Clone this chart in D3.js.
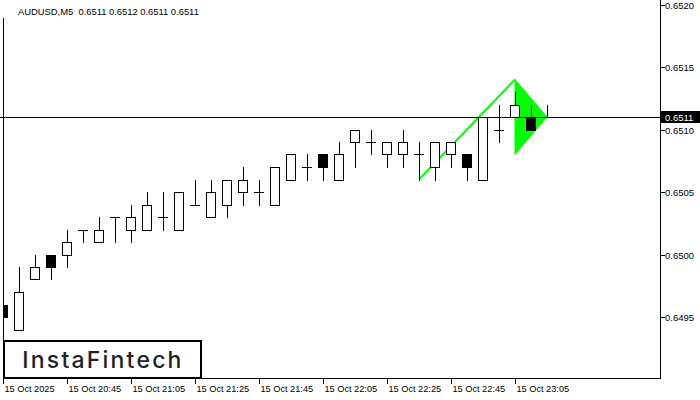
<!DOCTYPE html>
<html>
<head>
<meta charset="utf-8">
<title>AUDUSD M5</title>
<style>
    body { margin: 0; background: #fff; }
    svg { display: block; }
    text { font-family: "Liberation Sans", Arial, sans-serif; fill: #000; white-space: pre; }
</style>
</head>
<body>
<svg id="chart"></svg>
<script src="https://d3js.org/d3.v7.min.js"></script>
<script>

    // bar data (5 minute bars, 15 Oct 2025)
    const times = ["20:25","20:30","20:35","20:40","20:45","20:50","20:55","21:00","21:05","21:10",
                   "21:15","21:20","21:25","21:30","21:35","21:40","21:45","21:50","21:55","22:00",
                   "22:05","22:10","22:15","22:20","22:25","22:30","22:35","22:40","22:45","22:50",
                   "22:55","23:00","23:05","23:10","23:15"];
    const open  = [0.6496,0.6494,0.6498,0.6500,0.6500,0.6502,0.6501,0.6503,0.6502,0.6502,
                   0.6503,0.6502,0.6504,0.6503,0.6504,0.6505,0.6505,0.6504,0.6506,0.6507,
                   0.6508,0.6506,0.6509,0.6509,0.6508,0.6508,0.6508,0.6507,0.6508,0.6508,
                   0.6506,0.6510,0.6511,0.6511,0.6511];
    const high  = [0.6498,0.6499,0.6500,0.6500,0.6502,0.6502,0.6503,0.6503,0.6504,0.6505,
                   0.6505,0.6505,0.6506,0.6506,0.6506,0.6507,0.6506,0.6507,0.6508,0.6508,
                   0.6508,0.6509,0.6510,0.6510,0.6509,0.6510,0.6509,0.6509,0.6509,0.6508,
                   0.6511,0.6512,0.6513,0.6512,0.6512];
    const low   = [0.6494,0.6494,0.6498,0.6498,0.6499,0.6501,0.6501,0.6501,0.6501,0.6502,
                   0.6502,0.6502,0.6504,0.6503,0.6503,0.6504,0.6504,0.6504,0.6506,0.6506,
                   0.6506,0.6506,0.6507,0.6508,0.6507,0.6507,0.6506,0.6506,0.6507,0.6506,
                   0.6506,0.6509,0.6511,0.6510,0.6511];
    const close = [0.6495,0.6497,0.6499,0.6499,0.6501,0.6502,0.6502,0.6503,0.6503,0.6504,
                   0.6503,0.6505,0.6504,0.6505,0.6506,0.6506,0.6505,0.6507,0.6508,0.6507,
                   0.6507,0.6508,0.6510,0.6509,0.6509,0.6509,0.6508,0.6509,0.6509,0.6507,
                   0.6511,0.6510,0.6512,0.6510,0.6511];

    const xTickIdx    = [0,4,8,12,16,20,24,28,32];
    const xTickLabels = ["15 Oct 2025","15 Oct 20:45","15 Oct 21:05","15 Oct 21:25","15 Oct 21:45",
                         "15 Oct 22:05","15 Oct 22:25","15 Oct 22:45","15 Oct 23:05"];
    const yTicks      = [0.6495,0.6500,0.6505,0.6510,0.6515,0.6520];
    const lastPrice   = 0.6511;
    const title       = "AUDUSD,M5  0.6511 0.6512 0.6511 0.6511";

    // bullish pennant: pole from bar 26 to bar 32, flag ends at bar 34
    const poleIdx   = [26, 32];
    const polePrice = [0.6506, 0.6514];
    const flagIdx   = [32, 34, 32];
    const flagPrice = [0.6514, 0.6511, 0.6508];

    const data = times.map(function(t, i) {
        return {i: i, t: t, o: open[i], h: high[i], l: low[i], c: close[i]};
    });

    const svgWidth = 700, svgHeight = 400;
    const plotLeft = 3, plotRight = 660, plotBottom = 378;

    const svg = d3.select("#chart")
        .attr("width", svgWidth)
        .attr("height", svgHeight);

    const x = d3.scaleLinear().domain([0, 34]).range([3, 547]);
    const y = d3.scaleLinear().domain([0.6490, 0.6520]).range([379.5, 4.5]);

    svg.append("clipPath").attr("id", "plot")
        .append("rect")
        .attr("x", plotLeft).attr("y", 0)
        .attr("width", plotRight - plotLeft).attr("height", plotBottom);

    const g = svg.append("g").attr("clip-path", "url(#plot)");

    // pennant shape (behind the bars)
    const green = "#00ff00";
    const flagPts = flagIdx.map(function(d, k) { return [x(d), y(flagPrice[k])]; });
    g.append("path")
        .attr("d", d3.line()(flagPts) + "Z")
        .attr("fill", green)
        .attr("stroke", green)
        .attr("stroke-width", 1);

    g.append("path")
        .attr("d", d3.line()(poleIdx.map(function(d, k) { return [x(d), y(polePrice[k])]; })))
        .attr("fill", "none")
        .attr("stroke", green)
        .attr("stroke-width", 2);

    // last price line
    svg.append("line")
        .attr("x1", 0).attr("x2", plotRight)
        .attr("y1", Math.round(y(lastPrice)) + 0.5).attr("y2", Math.round(y(lastPrice)) + 0.5)
        .attr("stroke", "#000").attr("stroke-width", 1);

    // candles
    const bars = g.selectAll(".bar").data(data).enter().append("g").attr("class", "bar");
    function px(v) { return Math.round(v) + 0.5; }

    bars.append("line")
        .attr("x1", function(d) { return px(x(d.i)); })
        .attr("x2", function(d) { return px(x(d.i)); })
        .attr("y1", function(d) { return Math.round(y(d.h)); })
        .attr("y2", function(d) { return Math.round(y(d.l)) + 1; })
        .attr("stroke", "#000").attr("stroke-width", 1);

    bars.filter(function(d) { return d.o !== d.c; })
        .append("rect")
        .attr("x", function(d) { return Math.round(x(d.i)) - 4.5; })
        .attr("y", function(d) { return px(y(Math.max(d.o, d.c))); })
        .attr("width", 9)
        .attr("height", function(d) { return Math.round(y(Math.min(d.o, d.c))) - Math.round(y(Math.max(d.o, d.c))); })
        .attr("fill", function(d) { return d.c > d.o ? "#fff" : "#000"; })
        .attr("stroke", "#000").attr("stroke-width", 1);

    bars.filter(function(d) { return d.o === d.c; })
        .append("line")
        .attr("x1", function(d) { return Math.round(x(d.i)) - 5; })
        .attr("x2", function(d) { return Math.round(x(d.i)) + 5; })
        .attr("y1", function(d) { return px(y(d.o)); })
        .attr("y2", function(d) { return px(y(d.o)); })
        .attr("stroke", "#000").attr("stroke-width", 1);

    // frame
    svg.append("line").attr("x1", plotRight + 0.5).attr("x2", plotRight + 0.5)
        .attr("y1", 0).attr("y2", plotBottom + 1).attr("stroke", "#000");
    svg.append("line").attr("x1", plotLeft + 0.5).attr("x2", plotLeft + 0.5)
        .attr("y1", 18).attr("y2", plotBottom + 1).attr("stroke", "#000");
    svg.append("line").attr("x1", plotLeft).attr("x2", plotRight + 1)
        .attr("y1", plotBottom + 0.5).attr("y2", plotBottom + 0.5).attr("stroke", "#000");

    // right price axis
    const yAxis = svg.append("g");
    yTicks.forEach(function(v) {
        const yy = Math.round(y(v)) + 0.5;
        yAxis.append("line").attr("x1", plotRight).attr("x2", plotRight + 5)
            .attr("y1", yy).attr("y2", yy).attr("stroke", "#000");
        yAxis.append("text")
            .attr("x", plotRight + 5).attr("y", yy)
            .attr("dy", "0.35em")
            .style("font-size", "9.5px")
            .text(d3.format(".4f")(v));
    });

    const ly = Math.round(y(lastPrice));
    svg.append("rect").attr("x", plotRight + 1).attr("y", ly - 6)
        .attr("width", 39).attr("height", 12).attr("fill", "#000");
    svg.append("text").attr("x", plotRight + 5).attr("y", ly + 0.5)
        .attr("dy", "0.35em")
        .style("font-size", "9.5px").style("fill", "#fff")
        .text(d3.format(".4f")(lastPrice));

    // bottom time axis
    xTickIdx.forEach(function(idx, k) {
        const xx = Math.round(x(idx)) + 0.5;
        svg.append("line").attr("x1", xx).attr("x2", xx)
            .attr("y1", plotBottom).attr("y2", plotBottom + 6).attr("stroke", "#000");
        svg.append("text")
            .attr("x", xx + 1).attr("y", 392)
            .style("font-size", "9.2px")
            .text(xTickLabels[k]);
    });

    // title
    svg.append("text")
        .attr("x", 18).attr("y", 15)
        .style("font-size", "9.4px")
        .text(title);

    // logo
    svg.append("rect")
        .attr("x", 4).attr("y", 341).attr("width", 197).attr("height", 37)
        .attr("fill", "#fff").attr("stroke", "#000").attr("stroke-width", 2);
    svg.append("text")
        .attr("x", 103).attr("y", 368)
        .attr("text-anchor", "middle")
        .style("font-family", "Inter, 'Noto Sans', sans-serif")
        .style("font-size", "23px")
        .style("font-weight", "500")
        .style("letter-spacing", "2.2px")
        .style("fill", "#222")
        .text("InstaFintech");

</script>
</body>
</html>
